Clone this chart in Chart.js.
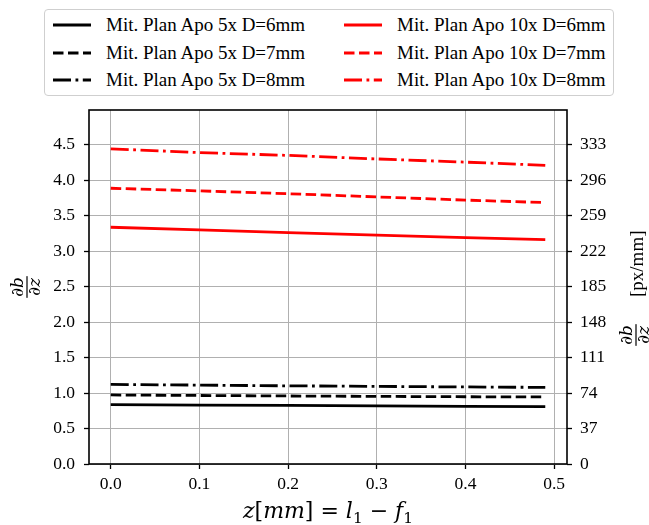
<!DOCTYPE html>
<html>
<head>
<meta charset="utf-8">
<script src="https://cdn.jsdelivr.net/npm/chart.js@4.4.1/dist/chart.umd.min.js"></script>
<style>
  body { margin: 0; background: #fff; }
  #wrap { position: relative; width: 649px; height: 525px; }
  #leyenda {
    position: absolute; left: 44px; top: 9px; width: 570px; height: 87px;
    border: 1px solid #cfcfcf; border-radius: 4px; background: #fff;
    box-sizing: border-box;
  }
  .item { position: absolute; height: 22px; line-height: 22px;
    font: 19px "Liberation Serif", serif; color: #000; white-space: nowrap; }
  .item svg { position: absolute; top: 0; }
</style>
</head>
<body>
<div id="wrap">
  <canvas id="grafico" width="649" height="525"></canvas>
  <div id="leyenda"></div>
</div>
<script>
// datos
const zValores = [0, 0.1, 0.2, 0.3, 0.4, 0.49];

const apo5_D6 = [0.836, 0.830, 0.825, 0.818, 0.812, 0.808];
const apo5_D7 = [0.973, 0.966, 0.959, 0.953, 0.948, 0.945];
const apo5_D8 = [1.122, 1.112, 1.102, 1.094, 1.086, 1.080];
const apo10_D6 = [3.337, 3.300, 3.262, 3.225, 3.190, 3.164];
const apo10_D7 = [3.887, 3.850, 3.810, 3.765, 3.720, 3.685];
const apo10_D8 = [4.443, 4.390, 4.350, 4.300, 4.255, 4.210];

const ticksX = [0, 0.1, 0.2, 0.3, 0.4, 0.5];
const ticksY = [0, 0.5, 1, 1.5, 2, 2.5, 3, 3.5, 4, 4.5];
const ticksY2 = [0, 37, 74, 111, 148, 185, 222, 259, 296, 333];
const factorPx = 74; // px/mm por unidad del eje izquierdo

const etiquetas = [
  "Mit. Plan Apo 5x D=6mm", "Mit. Plan Apo 5x D=7mm", "Mit. Plan Apo 5x D=8mm",
  "Mit. Plan Apo 10x D=6mm", "Mit. Plan Apo 10x D=7mm", "Mit. Plan Apo 10x D=8mm",
];
const series = [apo5_D6, apo5_D7, apo5_D8, apo10_D6, apo10_D7, apo10_D8];
const colores = ["#000", "#000", "#000", "#ff0000", "#ff0000", "#ff0000"];
const GROSOR = 2.8;
const estilos = [[], [10.5, 4.5], [18, 4.5, 2.8, 4.5], [], [10.5, 4.5], [18, 4.5, 2.8, 4.5]];

const fuenteTicks = { family: '"Liberation Serif", serif', size: 17.5 };
const gris = "#b0b0b0";

const datasets = series.map((s, i) => ({
  label: etiquetas[i],
  data: s.map((v, j) => ({ x: zValores[j], y: v })),
  borderColor: colores[i],
  borderWidth: GROSOR,
  borderDash: estilos[i],
  pointRadius: 0,
  fill: false,
  tension: 0,
  yAxisID: "y",
}));

// leyenda en html (2 columnas, 3 filas)
const leyenda = document.getElementById("leyenda");
datasets.forEach((d, i) => {
  const col = Math.floor(i / 3), fila = i % 3;
  const div = document.createElement("div");
  div.className = "item";
  div.style.left = (col === 0 ? 7 : 298) + "px";
  div.style.top = (15 + fila * 27.7 - 11) + "px";
  const dash = d.borderDash.length ? d.borderDash.join(" ") : "none";
  div.innerHTML =
    `<svg width="40" height="22"><line x1="1" y1="11" x2="39" y2="11" stroke="${d.borderColor}" stroke-width="${GROSOR}" stroke-dasharray="${dash}"/></svg>` +
    `<span style="position:absolute;left:54px;top:0">${d.label}</span>`;
  leyenda.appendChild(div);
});

function dibujarPartes(ctx, partes, x, y, size, familia) {
  partes.forEach(([txt, tipo]) => {
    const s = tipo === "sub" ? size * 0.7 : size;
    const dy = tipo === "sub" ? size * 0.22 : 0;
    ctx.font = (tipo === "it" ? "italic " : "") + s + "px " + familia;
    ctx.fillText(txt, x, y + dy);
    x += ctx.measureText(txt).width;
  });
  return x;
}
function anchoPartes(ctx, partes, size, familia) {
  let w = 0;
  partes.forEach(([txt, tipo]) => {
    const s = tipo === "sub" ? size * 0.7 : size;
    ctx.font = (tipo === "it" ? "italic " : "") + s + "px " + familia;
    w += ctx.measureText(txt).width;
  });
  return w;
}
// fraccion db/dz centrada en (0,0) del sistema actual
function fraccion(ctx, size) {
  const fam = '"DejaVu Serif"';
  const num = [["∂", "it"], ["b", "it"]], den = [["∂", "it"], ["z", "it"]];
  const wn = anchoPartes(ctx, num, size, fam), wd = anchoPartes(ctx, den, size, fam);
  const w = Math.max(wn, wd) + 2;
  ctx.textBaseline = "alphabetic";
  ctx.textAlign = "left";
  dibujarPartes(ctx, num, -wn / 2, -size * 0.22, size, fam);
  dibujarPartes(ctx, den, -wd / 2, size * 0.76, size, fam);
  ctx.fillRect(-w / 2, -0.6, w, 1.2);
}

const titulos = {
  id: "titulos",
  afterDraw(chart) {
    const ctx = chart.ctx;
    ctx.save();
    ctx.fillStyle = "#000";
    // eje x
    const fam = '"DejaVu Serif"';
    const partes = [["z", "it"], ["[", "up"], ["mm", "it"], ["]", "up"], [" = ", "up"],
      ["l", "it"], ["1", "sub"], [" − ", "up"], ["f", "it"], ["1", "sub"]];
    const size = 22;
    const w = anchoPartes(ctx, partes, size, fam);
    const cx = (chart.chartArea.left + chart.chartArea.right) / 2;
    ctx.textBaseline = "alphabetic";
    ctx.textAlign = "left";
    dibujarPartes(ctx, partes, cx - w / 2, 518, size, fam);
    ctx.restore();

    // eje y izquierdo
    ctx.save();
    ctx.fillStyle = "#000";
    ctx.translate(27, 287);
    ctx.rotate(-Math.PI / 2);
    fraccion(ctx, 17);
    ctx.restore();

    // eje y derecho
    ctx.save();
    ctx.fillStyle = "#000";
    ctx.translate(636, 288);
    ctx.rotate(-Math.PI / 2);
    ctx.save();
    ctx.translate(-47, 0);
    fraccion(ctx, 17);
    ctx.restore();
    ctx.font = '19px "Liberation Serif"';
    ctx.textAlign = "left";
    ctx.textBaseline = "alphabetic";
    ctx.fillText("[px/mm]", -9, 7);
    ctx.restore();
  },
};

const marco = {
  id: "marco",
  afterDatasetsDraw(chart) {
    const { left, top, width, height } = chart.chartArea;
    const ctx = chart.ctx;
    ctx.save();
    ctx.strokeStyle = "#000";
    ctx.lineWidth = 1.6;
    ctx.strokeRect(left, top, width, height);
    ctx.restore();
  },
};

const yMax = 4.99;

new Chart(document.getElementById("grafico"), {
  type: "line",
  data: { datasets },
  options: {
    responsive: false,
    animation: false,
    layout: { padding: { top: 110, left: 0, right: 0, bottom: 0 } },
    plugins: { legend: { display: false }, tooltip: { enabled: false } },
    scales: {
      x: {
        type: "linear",
        min: -0.0245,
        max: 0.5145,
        afterBuildTicks: (s) => { s.ticks = ticksX.map((v) => ({ value: v })); },
        afterFit: (s) => { s.height = 61; },
        border: { display: false },
        grid: { color: gris, lineWidth: 1, tickLength: 5, tickColor: "#000", tickWidth: 1.3 },
        ticks: { font: fuenteTicks, color: "#000", padding: 5, maxRotation: 0, autoSkip: false,
          callback: (v) => v.toFixed(1) },
      },
      y: {
        position: "left",
        min: 0,
        max: yMax,
        afterBuildTicks: (s) => { s.ticks = ticksY.map((v) => ({ value: v })); },
        afterFit: (s) => { s.width = 89; },
        border: { display: false },
        grid: { color: gris, lineWidth: 1, tickLength: 5, tickColor: "#000", tickWidth: 1.3 },
        ticks: { font: fuenteTicks, color: "#000", padding: 9, callback: (v) => v.toFixed(1) },
      },
      y1: {
        position: "right",
        min: 0,
        max: yMax * factorPx,
        afterBuildTicks: (s) => { s.ticks = ticksY2.map((v) => ({ value: v })); },
        afterFit: (s) => { s.width = 82; },
        border: { display: false },
        grid: { drawOnChartArea: false, tickLength: 5, tickColor: "#000", tickWidth: 1.3 },
        ticks: { font: fuenteTicks, color: "#000", padding: 8, callback: (v) => String(v) },
      },
    },
  },
  plugins: [marco, titulos],
});
</script>
</body>
</html>
